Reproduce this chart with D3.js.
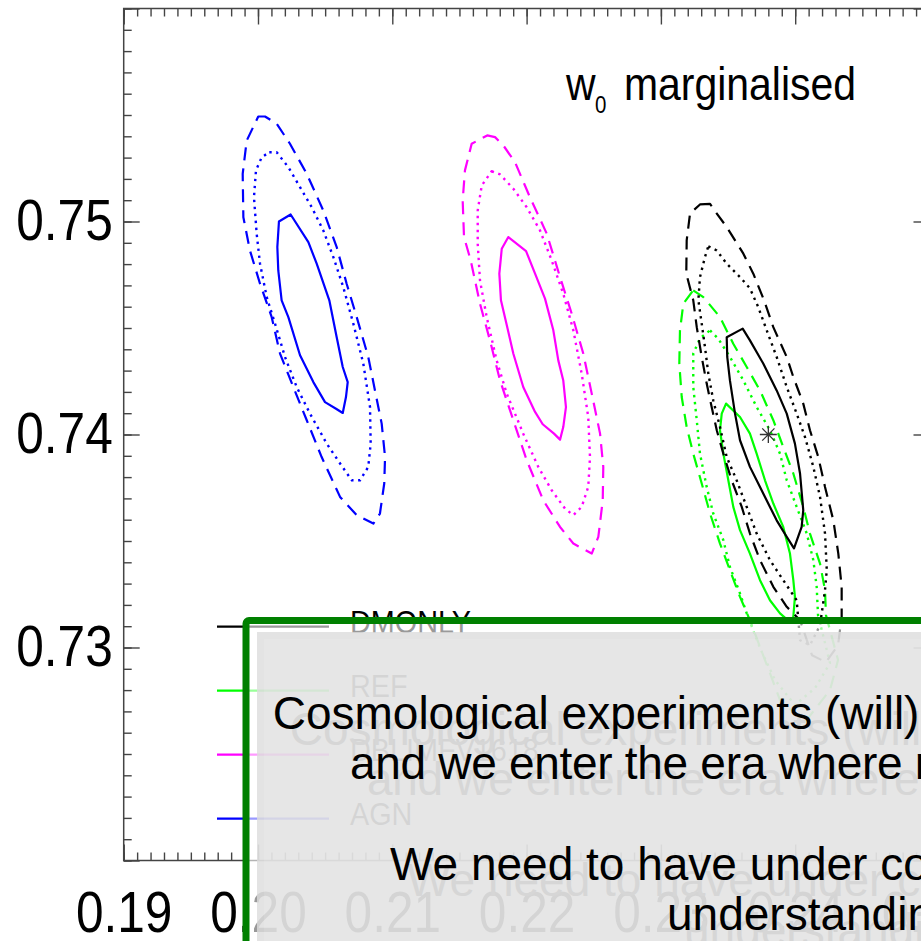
<!DOCTYPE html>
<html>
<head>
<meta charset="utf-8">
<script src="https://cdn.jsdelivr.net/npm/d3@7"></script>
<style>
  html, body { margin: 0; padding: 0; background: #ffffff; overflow: hidden; }
  svg { display: block; }
</style>
</head>
<body>
<svg id="chart" width="921" height="941"></svg>
<script>
// ---------------- data ----------------
const models = ["DMONLY", "REF", "DBLIMFV1618", "AGN"];
const modelColors = ["#000000", "#00ff00", "#ff00ff", "#0000ff"];
const xTickValues = [0.19, 0.20, 0.21, 0.22, 0.23, 0.24, 0.25];
const xTickLabels = ["0.19", "0.20", "0.21", "0.22", "0.23", "0.24", "0.25"];
const yTickValues = [0.73, 0.74, 0.75];
const yTickLabels = ["0.73", "0.74", "0.75"];
const fiducial = [0.238, 0.740];

// confidence contours: 1 = solid, 2 = dotted, 3 = dashed
const agn1 = [[0.20156,0.75000],[0.20243,0.75033],[0.20375,0.74903],[0.20437,0.74802],[0.20531,0.74630],[0.20586,0.74457],[0.20631,0.74317],[0.20668,0.74246],[0.20655,0.74176],[0.20631,0.74101],[0.20581,0.74121],[0.20499,0.74152],[0.20412,0.74246],[0.20313,0.74372],[0.20226,0.74551],[0.20176,0.74630],[0.20151,0.74770],[0.20144,0.74880]];
const agn2 = [[0.20084,0.75325],[0.20139,0.75325],[0.20226,0.75255],[0.20313,0.75161],[0.20400,0.75067],[0.20486,0.74958],[0.20561,0.74833],[0.20635,0.74692],[0.20710,0.74520],[0.20784,0.74333],[0.20834,0.74129],[0.20839,0.73957],[0.20821,0.73848],[0.20760,0.73785],[0.20698,0.73785],[0.20611,0.73864],[0.20512,0.73957],[0.20387,0.74098],[0.20288,0.74223],[0.20201,0.74364],[0.20127,0.74520],[0.20065,0.74645],[0.20015,0.74802],[0.19990,0.74943],[0.19970,0.75114],[0.19985,0.75240],[0.20028,0.75302]];
const agn3 = [[0.20002,0.75493],[0.20052,0.75493],[0.20139,0.75459],[0.20238,0.75365],[0.20363,0.75224],[0.20486,0.75052],[0.20586,0.74880],[0.20660,0.74708],[0.20735,0.74551],[0.20821,0.74364],[0.20871,0.74207],[0.20921,0.74051],[0.20946,0.73894],[0.20940,0.73770],[0.20908,0.73629],[0.20859,0.73582],[0.20735,0.73621],[0.20611,0.73707],[0.20474,0.73894],[0.20363,0.74067],[0.20263,0.74223],[0.20164,0.74380],[0.20102,0.74551],[0.20015,0.74708],[0.19940,0.74864],[0.19891,0.75020],[0.19886,0.75224],[0.19916,0.75380]];

const dbl1 = [[0.21864,0.74927],[0.21996,0.74861],[0.22063,0.74755],[0.22137,0.74638],[0.22199,0.74489],[0.22236,0.74348],[0.22273,0.74254],[0.22293,0.74129],[0.22273,0.74035],[0.22249,0.73976],[0.22204,0.74004],[0.22120,0.74048],[0.22063,0.74106],[0.21975,0.74223],[0.21901,0.74380],[0.21856,0.74504],[0.21809,0.74630],[0.21797,0.74755],[0.21815,0.74872]];
const dbl2 = [[0.21740,0.75236],[0.21802,0.75221],[0.21901,0.75154],[0.22001,0.75067],[0.22100,0.74958],[0.22187,0.74817],[0.22273,0.74661],[0.22348,0.74489],[0.22410,0.74286],[0.22459,0.74082],[0.22472,0.73894],[0.22459,0.73754],[0.22410,0.73660],[0.22348,0.73621],[0.22286,0.73652],[0.22187,0.73738],[0.22087,0.73848],[0.21975,0.74004],[0.21852,0.74192],[0.21777,0.74348],[0.21703,0.74551],[0.21653,0.74723],[0.21636,0.74896],[0.21636,0.75052],[0.21666,0.75169]];
const dbl3 = [[0.21707,0.75404],[0.21765,0.75396],[0.21827,0.75357],[0.21914,0.75278],[0.22025,0.75114],[0.22150,0.74943],[0.22249,0.74739],[0.22336,0.74567],[0.22422,0.74380],[0.22485,0.74192],[0.22547,0.74004],[0.22571,0.73848],[0.22567,0.73691],[0.22534,0.73519],[0.22485,0.73441],[0.22348,0.73488],[0.22249,0.73566],[0.22124,0.73691],[0.22001,0.73879],[0.21901,0.74067],[0.21802,0.74254],[0.21727,0.74442],[0.21653,0.74614],[0.21584,0.74817],[0.21534,0.74927],[0.21524,0.75099],[0.21541,0.75240],[0.21591,0.75365]];

const ref1 = [[0.23485,0.74145],[0.23589,0.74082],[0.23663,0.74004],[0.23713,0.73910],[0.23775,0.73785],[0.23837,0.73676],[0.23911,0.73566],[0.23961,0.73441],[0.23986,0.73316],[0.23998,0.73238],[0.23986,0.73144],[0.23961,0.73119],[0.23887,0.73160],[0.23812,0.73222],[0.23738,0.73316],[0.23663,0.73441],[0.23589,0.73551],[0.23539,0.73660],[0.23502,0.73785],[0.23465,0.73910],[0.23440,0.74020],[0.23453,0.74098]];
const ref2 = [[0.23366,0.74489],[0.23427,0.74450],[0.23514,0.74364],[0.23614,0.74254],[0.23713,0.74129],[0.23812,0.74020],[0.23887,0.73910],[0.23937,0.73785],[0.24011,0.73660],[0.24086,0.73535],[0.24135,0.73410],[0.24160,0.73285],[0.24170,0.73152],[0.24259,0.72927],[0.24147,0.72809],[0.23998,0.72730],[0.23850,0.72847],[0.23738,0.72997],[0.23639,0.73160],[0.23589,0.73254],[0.23514,0.73378],[0.23465,0.73504],[0.23390,0.73629],[0.23341,0.73754],[0.23291,0.73910],[0.23267,0.74067],[0.23241,0.74223],[0.23241,0.74380],[0.23291,0.74451]];
const ref3 = [[0.23241,0.74677],[0.23316,0.74645],[0.23440,0.74551],[0.23539,0.74426],[0.23639,0.74317],[0.23738,0.74207],[0.23837,0.74067],[0.23911,0.73941],[0.23986,0.73817],[0.24060,0.73660],[0.24110,0.73535],[0.24185,0.73394],[0.24222,0.73269],[0.24229,0.73152],[0.24319,0.72941],[0.24259,0.72800],[0.24073,0.72650],[0.23887,0.72753],[0.23775,0.72941],[0.23663,0.73128],[0.23589,0.73238],[0.23514,0.73363],[0.23440,0.73488],[0.23366,0.73629],[0.23304,0.73770],[0.23241,0.73910],[0.23192,0.74035],[0.23155,0.74176],[0.23137,0.74333],[0.23142,0.74489],[0.23167,0.74614]];

const dmo1 = [[0.23490,0.74457],[0.23609,0.74497],[0.23663,0.74442],[0.23762,0.74333],[0.23862,0.74207],[0.23937,0.74098],[0.23998,0.73957],[0.24036,0.73817],[0.24060,0.73644],[0.24048,0.73566],[0.23991,0.73465],[0.23937,0.73519],[0.23862,0.73597],[0.23762,0.73723],[0.23663,0.73848],[0.23589,0.73973],[0.23552,0.74098],[0.23514,0.74254],[0.23494,0.74364]];
const dmo2 = [[0.23353,0.74883],[0.23416,0.74864],[0.23490,0.74802],[0.23589,0.74739],[0.23663,0.74686],[0.23725,0.74598],[0.23788,0.74489],[0.23862,0.74364],[0.23937,0.74223],[0.24011,0.74098],[0.24073,0.73988],[0.24135,0.73848],[0.24185,0.73707],[0.24222,0.73535],[0.24235,0.73363],[0.24222,0.73269],[0.24185,0.73105],[0.24110,0.73011],[0.24036,0.73034],[0.24011,0.73222],[0.23911,0.73316],[0.23812,0.73410],[0.23713,0.73535],[0.23639,0.73660],[0.23564,0.73785],[0.23490,0.73894],[0.23440,0.74035],[0.23390,0.74160],[0.23353,0.74286],[0.23328,0.74411],[0.23304,0.74520],[0.23279,0.74630],[0.23291,0.74739],[0.23328,0.74833]];
const dmo3 = [[0.23291,0.75080],[0.23366,0.75083],[0.23390,0.75060],[0.23490,0.74974],[0.23614,0.74849],[0.23688,0.74755],[0.23768,0.74630],[0.23837,0.74504],[0.23937,0.74364],[0.23986,0.74270],[0.24060,0.74145],[0.24110,0.74020],[0.24172,0.73894],[0.24222,0.73754],[0.24284,0.73597],[0.24321,0.73441],[0.24346,0.73285],[0.24346,0.73144],[0.24319,0.73011],[0.24229,0.72931],[0.24125,0.72964],[0.24036,0.73128],[0.23937,0.73191],[0.23837,0.73285],[0.23738,0.73410],[0.23663,0.73535],[0.23602,0.73660],[0.23527,0.73785],[0.23465,0.73910],[0.23416,0.74020],[0.23378,0.74129],[0.23341,0.74239],[0.23304,0.74364],[0.23267,0.74504],[0.23241,0.74630],[0.23189,0.74755],[0.23192,0.74911],[0.23217,0.75038]];

// text of the slide panel laid over the plot
const panelLines = [
  "Cosmological experiments (will)",
  "and we enter the era where modelling",
  "",
  "We need to have under control our",
  "understanding"
];
const panelLineStarts = [272.7, 350, 0, 390, 667];
const panelLineSpacing = [0, -0.3, 0, 0, 0];

// ---------------- layout ----------------
const svg = d3.select("#chart");
const x = d3.scaleLinear().domain([0.19, 0.25]).range([123.7, 929.5]);
const y = d3.scaleLinear().domain([0.72, 0.76]).range([860.5, 8.5]);

const axisColor = "#444444";
const labelFont = "'Liberation Sans', Arial, sans-serif";
const squeeze = 0.87;

const minorX = d3.range(190, 251).map(d => d / 1000);
const minorY = d3.range(720, 761).map(d => d / 1000);
const majorX = d3.range(19, 26).map(d => d / 100);
const majorY = d3.range(72, 77).map(d => d / 100);

// ---------------- contours ----------------
const line = d3.line().x(d => x(d[0])).y(d => y(d[1])).curve(d3.curveLinearClosed);
const styles = {
  1: { dash: null, width: 2.2 },
  2: { dash: "2.4 4.6", width: 2.4 },
  3: { dash: "13 8", width: 2.2 }
};
const contourSets = [
  { color: modelColors[3], sets: [agn1, agn2, agn3] },
  { color: modelColors[2], sets: [dbl1, dbl2, dbl3] },
  { color: modelColors[1], sets: [ref1, ref2, ref3] },
  { color: modelColors[0], sets: [dmo1, dmo2, dmo3] }
];
const gc = svg.append("g").attr("class", "contours");
contourSets.forEach(cs => {
  cs.sets.forEach((pts, i) => {
    const st = styles[i + 1];
    gc.append("path")
      .attr("d", line(pts))
      .attr("fill", "none")
      .attr("stroke", cs.color)
      .attr("stroke-width", st.width)
      .attr("stroke-linejoin", "round")
      .attr("stroke-dasharray", st.dash);
  });
});

// fiducial model marker (asterisk)
const r = 8.5, rd = r * 0.72;
const fx = x(fiducial[0]), fy = y(fiducial[1]);
svg.append("path")
  .attr("d", `M${fx - r},${fy}L${fx + r},${fy}M${fx},${fy - r}L${fx},${fy + r}` +
             `M${fx - rd},${fy - rd}L${fx + rd},${fy + rd}M${fx - rd},${fy + rd}L${fx + rd},${fy - rd}`)
  .attr("stroke", "#333333").attr("stroke-width", 1.3).attr("fill", "none");

// ---------------- axes ----------------
function ticks(gen, scale, values, size, tx, ty) {
  const g = svg.append("g").attr("transform", `translate(${tx},${ty})`)
    .call(gen(scale).tickValues(values).tickSize(size).tickFormat(""));
  g.select(".domain").remove();
  g.selectAll("line").attr("stroke", axisColor).attr("stroke-width", 1.4);
  return g;
}
// bottom (ticks pointing up), top (ticks pointing down)
ticks(d3.axisTop, x, minorX, 8, 0, y(0.72));
ticks(d3.axisTop, x, majorX, 16, 0, y(0.72));
ticks(d3.axisBottom, x, minorX, 8, 0, y(0.76));
ticks(d3.axisBottom, x, majorX, 16, 0, y(0.76));
// left (ticks pointing right), right (ticks pointing left)
ticks(d3.axisRight, y, minorY, 8, x(0.19), 0);
ticks(d3.axisRight, y, majorY, 16, x(0.19), 0);
ticks(d3.axisLeft, y, minorY, 8, x(0.25), 0);
ticks(d3.axisLeft, y, majorY, 16, x(0.25), 0);

svg.append("rect")
  .attr("x", x(0.19)).attr("y", y(0.76))
  .attr("width", x(0.25) - x(0.19)).attr("height", y(0.72) - y(0.76))
  .attr("fill", "none").attr("stroke", axisColor).attr("stroke-width", 1.5);

// tick labels
const gxl = svg.append("g").attr("transform", `translate(0,${y(0.72)})`)
  .call(d3.axisBottom(x).tickValues(xTickValues).tickSize(0).tickPadding(31.5)
        .tickFormat((d, i) => xTickLabels[i]));
gxl.select(".domain").remove();
gxl.selectAll("text")
  .attr("font-family", labelFont).attr("font-size", 57).attr("fill", "#000")
  .attr("transform", `scale(${squeeze},1)`);

const gyl = svg.append("g").attr("transform", `translate(${x(0.19)},0)`)
  .call(d3.axisLeft(y).tickValues(yTickValues).tickSize(0).tickPadding(11)
        .tickFormat((d, i) => yTickLabels[i]));
gyl.select(".domain").remove();
gyl.selectAll("text")
  .attr("font-family", labelFont).attr("font-size", 57).attr("fill", "#000")
  .attr("x", -11 / squeeze)
  .attr("transform", `scale(${squeeze},1)`);

// panel title: w0 marginalised
const tsq = 0.89;
svg.append("text").attr("transform", `translate(566,100) scale(${tsq},1)`)
  .attr("font-family", labelFont).attr("font-size", 46).text("w");
svg.append("text").attr("transform", `translate(595,112.5) scale(${tsq},1)`)
  .attr("font-family", labelFont).attr("font-size", 23).text("0");
svg.append("text").attr("transform", `translate(624,100) scale(${tsq},1)`)
  .attr("font-family", labelFont).attr("font-size", 46).text("marginalised");

// legend
const legend = svg.append("g");
models.forEach((m, i) => {
  const ly = 626.7 + 64 * i;
  legend.append("line").attr("x1", 217).attr("x2", 329).attr("y1", ly).attr("y2", ly)
    .attr("stroke", modelColors[i]).attr("stroke-width", 2.2);
  legend.append("text").attr("transform", `translate(350,${ly + 6}) scale(0.9,1)`)
    .attr("font-family", labelFont).attr("font-size", 32).attr("fill", "#000").text(m);
});

// ---------------- slide panel laid over the plot ----------------
const panel = svg.append("g");
panel.append("rect").attr("x", 246).attr("y", 620.5).attr("width", 700).attr("height", 340)
  .attr("fill", "#ffffff").attr("fill-opacity", 0.6);
panel.append("rect").attr("x", 257).attr("y", 632).attr("width", 700).attr("height", 340)
  .attr("fill", "#dcdcdc").attr("fill-opacity", 0.8);
panel.append("rect").attr("x", 264).attr("y", 639).attr("width", 700).attr("height", 340)
  .attr("fill", "#ffffff").attr("fill-opacity", 0.12);
panel.append("rect").attr("x", 246).attr("y", 620.5).attr("width", 700).attr("height", 340)
  .attr("rx", 3).attr("fill", "none").attr("stroke", "#008000").attr("stroke-width", 7);

const textFont = "'Liberation Sans', Arial, sans-serif";
const textSize = 46;
panelLines.forEach((t, i) => {
  if (!t) return;
  panel.append("text").attr("x", panelLineStarts[i] + 17).attr("y", 729 + 50.3 * i + 16)
    .attr("font-family", textFont).attr("font-size", textSize)
    .attr("letter-spacing", panelLineSpacing[i]).attr("fill", "#d6d6d6").text(t);
});
panelLines.forEach((t, i) => {
  if (!t) return;
  panel.append("text").attr("x", panelLineStarts[i]).attr("y", 729 + 50.3 * i)
    .attr("font-family", textFont).attr("font-size", textSize)
    .attr("letter-spacing", panelLineSpacing[i]).attr("fill", "#000").text(t);
});
</script>
</body>
</html>
